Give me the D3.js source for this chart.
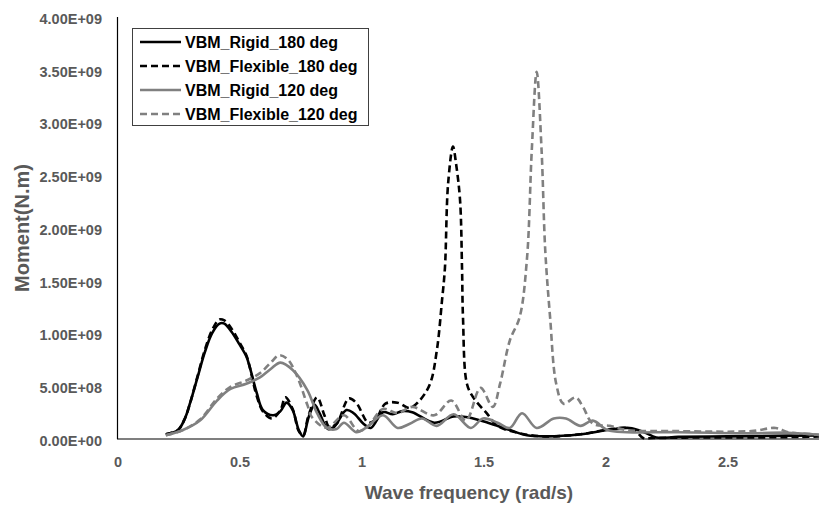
<!DOCTYPE html>
<html>
<head>
<meta charset="utf-8">
<script src="https://cdn.jsdelivr.net/npm/d3@7"></script>
<style>
  body { margin: 0; background: #fff; }
  text { font-family: "Liberation Sans", Arial, sans-serif; font-weight: bold; }
</style>
</head>
<body>
<script>
// values in units of 1e8 N.m, frequency in rad/s
const rigid180 = [
  [0.20,0.4],[0.25,0.8],[0.28,2.0],[0.30,3.4],[0.33,5.8],[0.36,8.2],[0.39,10.0],[0.42,10.9],[0.44,10.9],
  [0.47,10.1],[0.50,9.0],[0.53,7.8],[0.545,6.7],[0.573,4.3],[0.598,2.7],[0.64,2.2],[0.67,2.6],[0.695,3.4],
  [0.72,2.7],[0.745,0.8],[0.763,0.2],[0.785,2.0],[0.81,3.2],[0.83,2.4],[0.865,0.9],[0.89,1.1],[0.94,2.7],
  [0.97,2.4],[1.01,1.4],[1.04,1.0],[1.09,2.5],[1.13,2.3],[1.17,2.6],[1.21,2.5],[1.30,1.5],[1.38,2.1],
  [1.44,2.0],[1.52,1.5],[1.61,0.8],[1.68,0.3],[1.76,0.2],[1.90,0.4],[2.01,0.8],[2.10,1.0],[2.16,0.6],
  [2.21,0.1],[2.30,0.15],[2.50,0.2],[2.70,0.25],[2.90,0.3]
];
const flex180 = [
  [0.20,0.4],[0.25,0.8],[0.28,2.0],[0.30,3.4],[0.33,5.9],[0.36,8.4],[0.39,10.3],[0.42,11.3],[0.44,11.2],
  [0.47,10.4],[0.50,9.2],[0.53,7.9],[0.545,6.7],[0.573,4.0],[0.60,2.5],[0.635,1.9],[0.67,2.7],[0.69,3.9],
  [0.72,2.8],[0.745,0.7],[0.763,0.3],[0.785,2.2],[0.82,3.9],[0.85,2.2],[0.87,1.1],[0.90,1.4],[0.95,3.8],
  [0.98,3.4],[1.03,1.5],[1.06,1.8],[1.10,3.3],[1.15,3.4],[1.20,2.9],[1.24,3.6],[1.283,5.2],[1.311,8.4],
  [1.332,13.1],[1.344,16.2],[1.357,24.2],[1.377,27.7],[1.39,26.0],[1.406,22.6],[1.414,16.2],[1.418,11.5],
  [1.434,5.2],[1.46,3.9],[1.515,2.4],[1.56,1.2],[1.65,0.5],[1.75,0.2],[1.90,0.4],[2.00,0.8],[2.09,1.0],
  [2.13,0.6],[2.156,0.05],[2.20,0.05],[2.40,0.1],[2.60,0.1],[2.80,0.15],[2.90,0.2]
];
const rigid120 = [
  [0.20,0.3],[0.27,0.8],[0.34,1.7],[0.41,3.6],[0.465,4.7],[0.53,5.2],[0.586,5.8],[0.63,6.6],[0.67,7.2],
  [0.72,6.5],[0.78,4.6],[0.82,2.4],[0.86,1.0],[0.90,0.9],[0.93,1.5],[0.98,0.6],[1.02,1.0],[1.09,2.2],
  [1.15,1.0],[1.20,1.4],[1.25,1.9],[1.31,1.2],[1.38,2.3],[1.45,1.0],[1.50,1.9],[1.56,1.5],[1.61,1.0],
  [1.66,2.4],[1.72,1.0],[1.79,1.9],[1.84,1.9],[1.90,1.2],[1.95,1.7],[2.01,0.8],[2.09,0.6],[2.30,0.6],
  [2.60,0.5],[2.75,0.55],[2.85,0.4],[2.90,0.3]
];
const flex120 = [
  [0.20,0.3],[0.27,0.8],[0.34,1.8],[0.41,3.8],[0.465,4.9],[0.53,5.5],[0.586,6.2],[0.63,7.2],[0.665,7.9],
  [0.70,7.5],[0.74,5.8],[0.78,3.2],[0.80,2.0],[0.86,1.0],[0.93,2.2],[0.99,0.7],[1.03,1.2],[1.09,2.8],
  [1.15,2.4],[1.21,3.0],[1.30,2.2],[1.37,3.6],[1.43,1.7],[1.49,4.8],[1.54,3.0],[1.57,5.2],[1.61,9.3],
  [1.65,11.5],[1.68,17.0],[1.70,27.4],[1.72,34.8],[1.74,27.4],[1.755,17.9],[1.775,11.5],[1.80,5.2],
  [1.83,3.3],[1.88,3.9],[1.91,3.0],[1.95,1.4],[2.02,1.2],[2.09,0.8],[2.30,0.7],[2.60,0.7],[2.70,1.0],
  [2.75,0.6],[2.85,0.4],[2.90,0.3]
];
const seriesNames = ["VBM_Rigid_180 deg", "VBM_Flexible_180 deg", "VBM_Rigid_120 deg", "VBM_Flexible_120 deg"];
const yTicks = [0, 5e8, 1e9, 1.5e9, 2e9, 2.5e9, 3e9, 3.5e9, 4e9];
const xTicks = [0, 0.5, 1, 1.5, 2, 2.5];

const W = 819, H = 509;
const svg = d3.select("body").append("svg").attr("width", W).attr("height", H);

const x = d3.scaleLinear().domain([0, 2.9]).range([117, 117 + 2.9 * 244]);
const y = d3.scaleLinear().domain([0, 4e9]).range([438.5, 17]);

const series = [
  {name: seriesNames[0], data: rigid180, color: "#000", dash: null},
  {name: seriesNames[1], data: flex180, color: "#000", dash: "7,4"},
  {name: seriesNames[2], data: rigid120, color: "#808080", dash: null},
  {name: seriesNames[3], data: flex120, color: "#808080", dash: "7,4"}
];

// y tick labels
svg.append("g").selectAll("text").data(yTicks).enter().append("text")
  .attr("x", 102).attr("y", d => y(d) + 2).attr("dy", "0.35em")
  .attr("text-anchor", "end").attr("fill", "#595959").style("font-size", "14.5px")
  .text(d => d === 0 ? "0.00E+00" : (d / Math.pow(10, Math.floor(Math.log10(d)))).toFixed(2) + "E+" + String(Math.floor(Math.log10(d))).padStart(2, "0"));

// x tick labels
svg.append("g").selectAll("text").data(xTicks).enter().append("text")
  .attr("x", d => x(d) + 1).attr("y", 462).attr("dy", "0.35em")
  .attr("text-anchor", "middle").attr("fill", "#595959").style("font-size", "14.5px")
  .text(d => d);

// axis titles
svg.append("text").attr("x", 469).attr("y", 492).attr("dy", "0.35em")
  .attr("text-anchor", "middle").attr("fill", "#595959").style("font-size", "19px")
  .text("Wave frequency (rad/s)");
svg.append("text").attr("transform", "translate(22,228) rotate(-90)").attr("dy", "0.35em")
  .attr("text-anchor", "middle").attr("fill", "#595959").style("font-size", "20px")
  .text("Moment(N.m)");

// lines
let line = d3.line().x(d => x(d[0])).y(d => y(d[1] * 1e8)).curve(d3.curveCatmullRom.alpha(0.5));
svg.append("g").selectAll("path").data(series).enter().append("path")
  .attr("d", d => line(d.data))
  .attr("fill", "none").attr("stroke", d => d.color).attr("stroke-width", 2.6)
  .attr("stroke-dasharray", d => d.dash);

// axes lines
svg.append("line").attr("x1", 117.5).attr("x2", 117.5).attr("y1", 17).attr("y2", 439).attr("stroke", "#000").attr("stroke-width", 1.2);
svg.append("line").attr("x1", 117).attr("x2", W).attr("y1", 439).attr("y2", 439).attr("stroke", "#000").attr("stroke-width", 1.2);

// legend
let legend = svg.append("g");
legend.append("rect").attr("x", 132.5).attr("y", 28.5).attr("width", 236).attr("height", 97)
  .attr("fill", "#fff").attr("stroke", "#404040").attr("stroke-width", 1);
let items = legend.selectAll("g.item").data(series).enter().append("g").attr("class", "item")
  .attr("transform", (d, i) => "translate(0," + (42 + i * 24) + ")");
items.append("line").attr("x1", 140).attr("x2", 181).attr("y1", 0).attr("y2", 0)
  .attr("stroke", d => d.color).attr("stroke-width", 2.6).attr("stroke-dasharray", d => d.dash);
items.append("text").attr("x", 185).attr("y", 0).attr("dy", "0.35em").attr("fill", "#000")
  .style("font-size", "16px").text(d => d.name);
</script>
</body>
</html>
